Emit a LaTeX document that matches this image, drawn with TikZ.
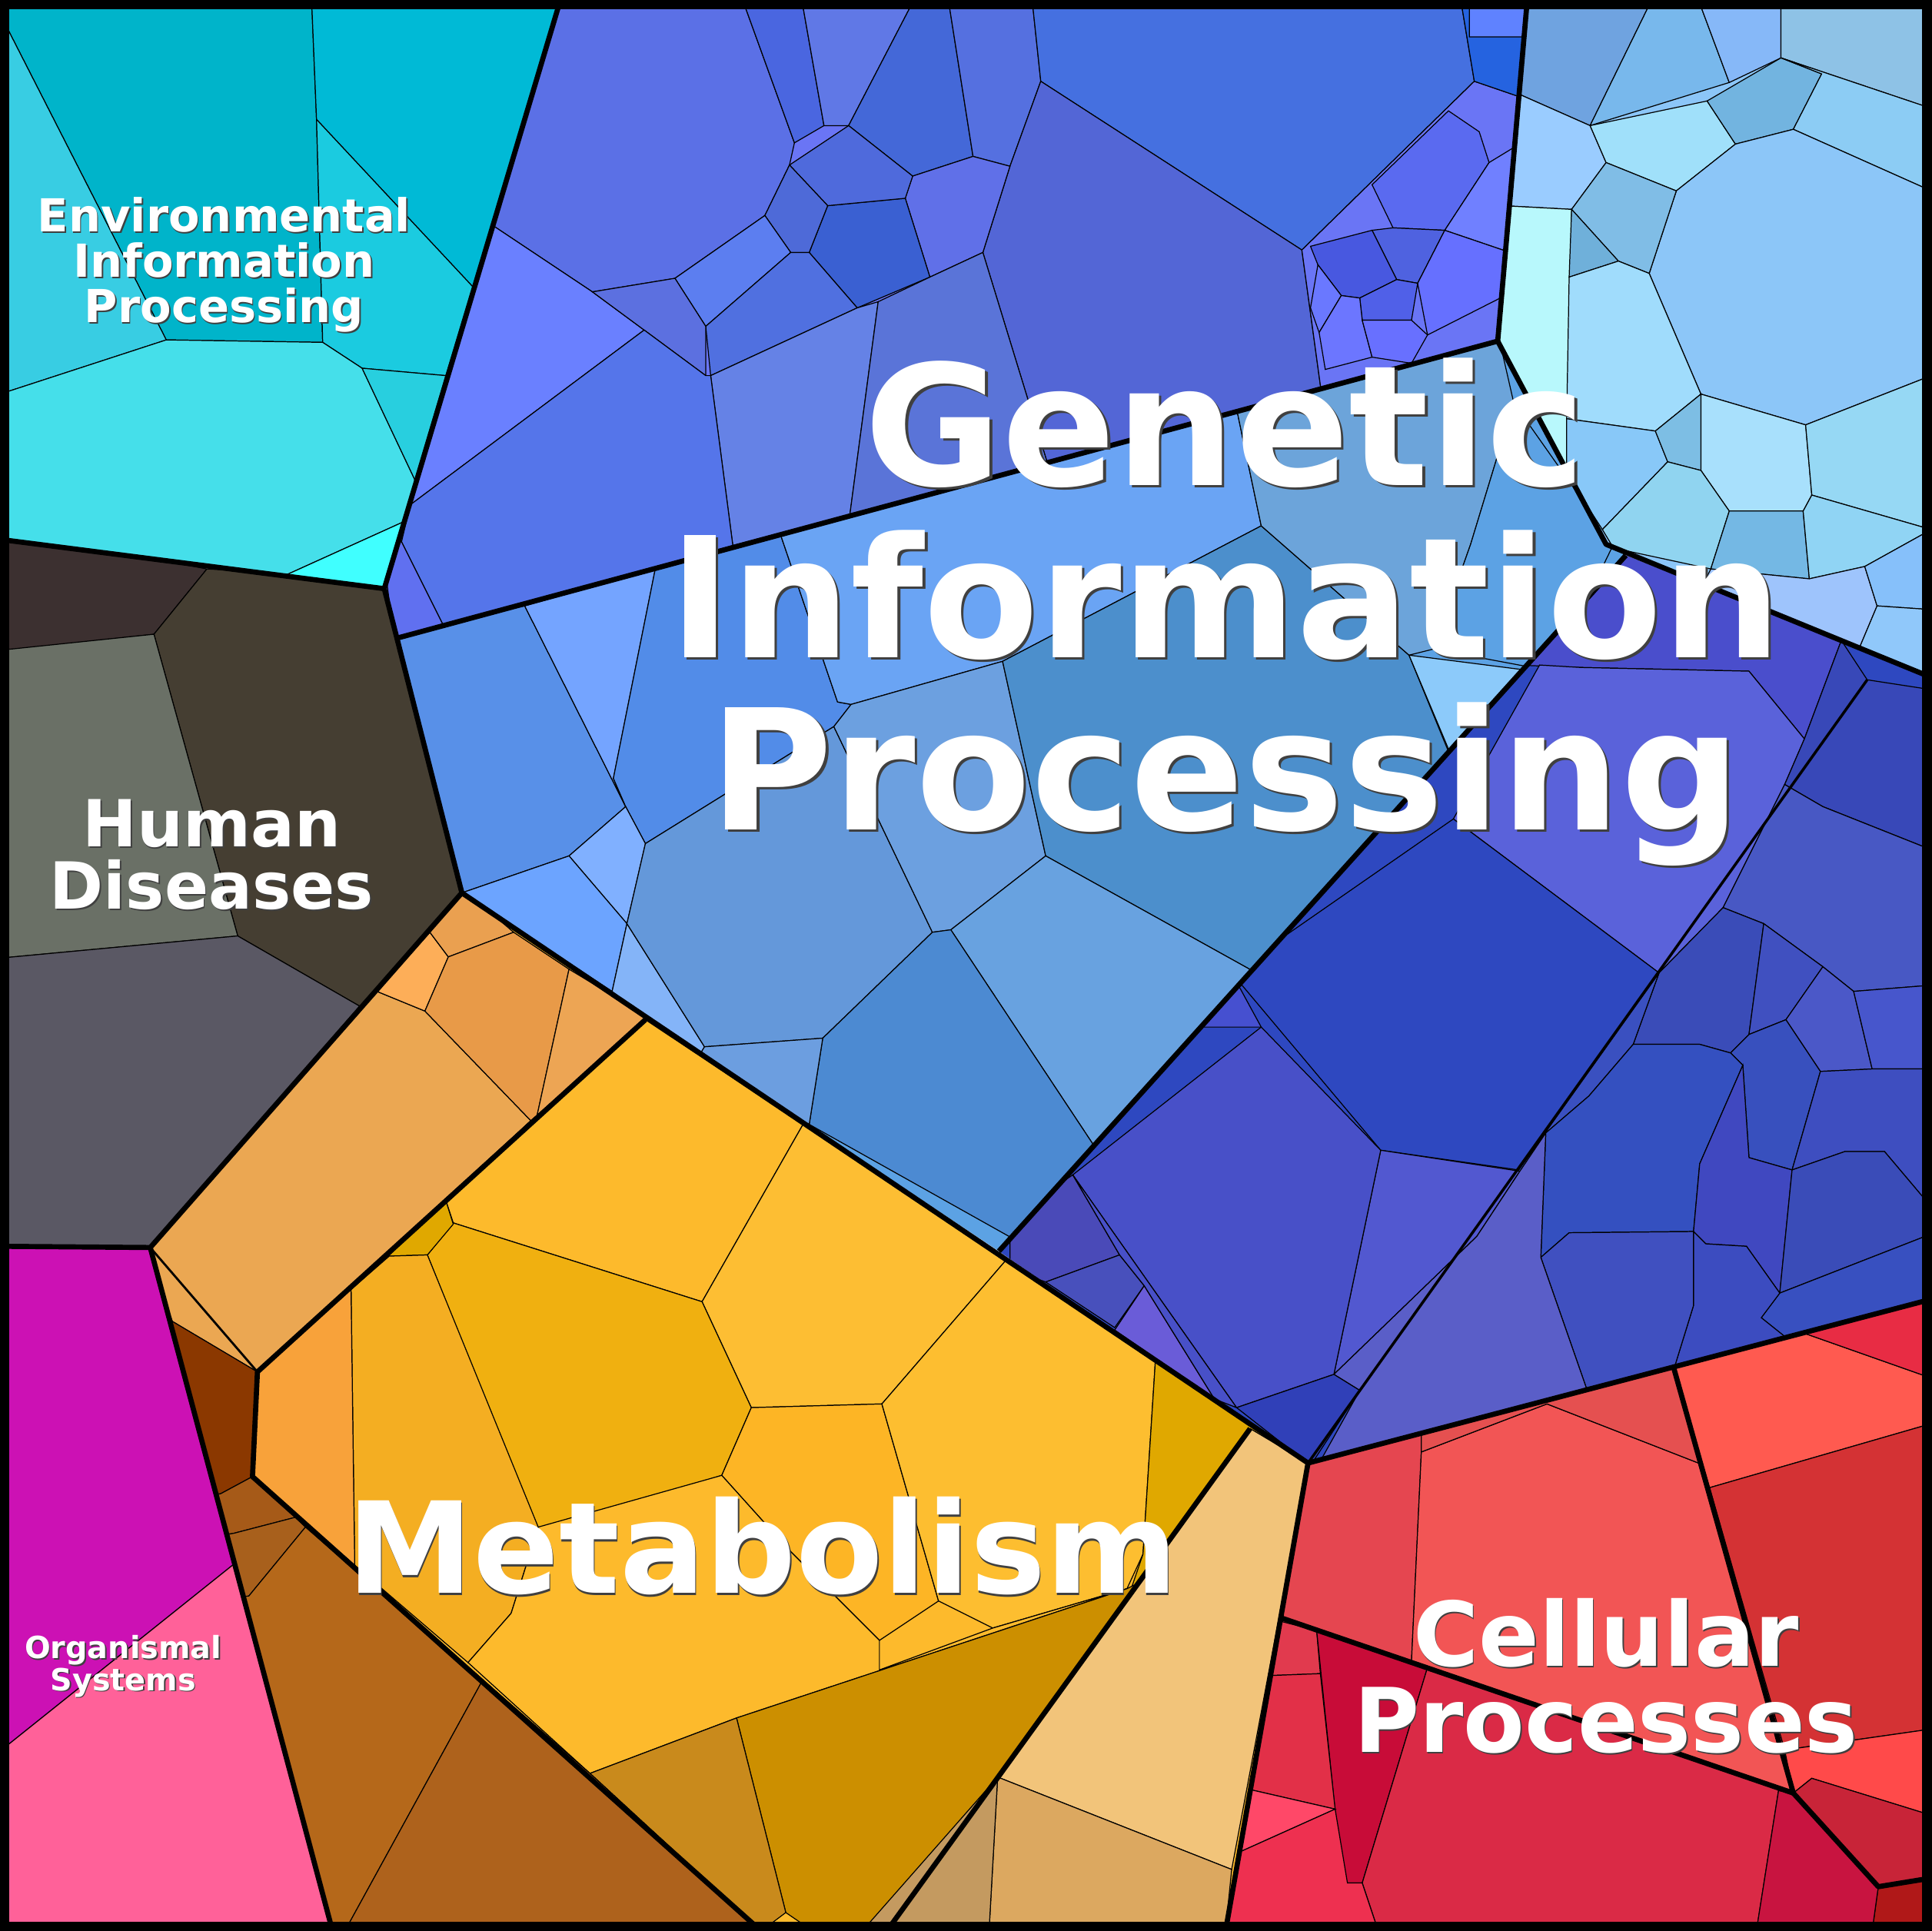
\documentclass[tikz,border=0pt]{standalone}
\usepackage{fontspec}
\setmainfont{DejaVu Sans}
\newcommand\cell[2]{\definecolor{tmpc}{HTML}{#1}\filldraw[fill=tmpc,draw=black,line width=0.35pt] #2 -- cycle;}
\newcommand\basefill[1]{\definecolor{tmpc}{HTML}{#1}\fill[tmpc] (0,0) rectangle (1568,1568);}
\begin{document}
\begin{tikzpicture}[x=0.016cm,y=-0.016cm,
  thick border/.style={line width=1.9pt,line join=round},
  lbl/.style={text=white,font=\bfseries,align=center,inner sep=0},
  shd/.style={text=black!75,font=\bfseries,align=center,inner sep=0}]
\useasboundingbox (0,0) rectangle (1568,1568);
% ---------- Environmental ----------
\begin{scope}
\clip (0,0)--(455,0)--(312,478)--(0,438)--cycle;
\cell{00B4CA}{(0,0)--(253,0)--(257,97)--(262,278)--(135,276)--(7,25)--(0,20)}
\cell{00BAD6}{(253,0)--(460,0)--(384,233)--(257,97)}
\cell{38CDE3}{(0,20)--(7,25)--(135,276)--(0,320)}
\cell{1BCBE0}{(257,97)--(384,233)--(362,305)--(294,299)--(262,278)}
\cell{45DFEA}{(0,320)--(135,276)--(262,278)--(294,299)--(337,390)--(327,424)--(232,467)--(0,445)}
\cell{28CFDF}{(294,299)--(362,305)--(337,390)}
\cell{40FFFF}{(232,467)--(327,424)--(312,490)}
\end{scope}
% ---------- Human diseases ----------
\begin{scope}
\clip (0,438)--(312,478)--(375,725)--(122,1013)--(0,1012)--cycle;
\cell{3C3030}{(0,430)--(168,462)--(125,515)--(8,528)--(0,520)}
\cell{453E32}{(168,462)--(320,470)--(380,725)--(292,817)--(193,760)--(125,515)}
\cell{6A7066}{(0,528)--(125,515)--(193,760)--(0,778)}
\cell{5A5864}{(0,778)--(193,760)--(292,817)--(122,1013)--(0,1012)}
\end{scope}
% ---------- Organismal ----------
\cell{CC11B4}{(0,1012)--(122,1013)--(190,1270)--(0,1422)}
\cell{FF6199}{(0,1422)--(190,1270)--(270,1568)--(0,1568)}
% ---------- Metabolism ----------
\begin{scope}
\clip (375,725)--(1062,1188)--(995,1568)--(270,1568)--(122,1013)--cycle;
\basefill{FDBA2C}
\cell{EBA752}{(115,1010)--(306,805)--(345,821)--(431,910)--(209,1114)--(140,1073)}
\cell{FDAE58}{(306,805)--(349,757)--(364,777)--(345,821)}
\cell{EAA050}{(349,757)--(374,720)--(417,757)--(364,777)}
\cell{E89A48}{(345,821)--(364,777)--(417,757)--(462,787)--(436,906)--(431,910)}
\cell{EDA554}{(462,787)--(530,828)--(436,906)}
\cell{FDBA2C}{(524,828)--(652,913)--(570,1057)--(368,993)--(362,975)--(431,910)}
\cell{FDBE33}{(652,913)--(817,1023)--(716,1140)--(610,1143)--(570,1057)}
\cell{F0B010}{(368,993)--(570,1057)--(610,1143)--(586,1198)--(437,1245)--(347,1019)}
\cell{E0A800}{(315,1020)--(362,975)--(368,994)--(347,1019)}
\cell{F4AE22}{(285,1047)--(316,1020)--(347,1019)--(437,1240)--(415,1310)--(380,1350)--(288,1271)}
\cell{F8A23A}{(209,1114)--(285,1047)--(288,1271)--(205,1199)}
\cell{FDB525}{(586,1198)--(610,1143)--(716,1140)--(762,1300)--(714,1332)--(640,1258)}
\cell{FDBE30}{(716,1140)--(817,1023)--(938,1106)--(928,1262)--(915,1290)--(806,1322)--(762,1300)}
\cell{E0A800}{(938,1106)--(1030,1165)--(915,1300)--(928,1262)}
\cell{FDBA2C}{(380,1350)--(415,1310)--(437,1240)--(586,1198)--(640,1258)--(714,1332)--(714,1356)--(806,1322)--(915,1290)--(598,1395)--(479,1440)}
\cell{CC8F00}{(598,1395)--(915,1290)--(935,1280)--(720,1568)--(660,1568)--(638,1553)}
\cell{C98A1C}{(479,1440)--(598,1395)--(638,1553)--(618,1568)}
\cell{8B3800}{(120,1060)--(140,1073)--(209,1114)--(205,1199)--(179,1213)--(150,1215)}
\cell{A65A18}{(150,1215)--(179,1213)--(205,1199)--(240,1232)--(190,1245)--(160,1250)}
\cell{A8601C}{(160,1250)--(190,1245)--(240,1232)--(248,1240)--(202,1296)--(170,1300)}
\cell{B5681A}{(170,1300)--(202,1296)--(248,1240)--(392,1364)--(280,1568)--(240,1568)}
\cell{AE621C}{(392,1364)--(479,1440)--(618,1568)--(280,1568)}
\cell{F2C47A}{(1015,1160)--(1062,1188)--(1000,1518)--(810,1443)}
\cell{DCA860}{(810,1443)--(1000,1518)--(995,1568)--(803,1568)}
\cell{C49A60}{(810,1443)--(803,1568)--(700,1568)}
\end{scope}
% ---------- Cellular ----------
\begin{scope}
\clip (1062,1188)--(1568,1055)--(1568,1568)--(995,1568)--cycle;
\basefill{DA2A46}
\cell{E54650}{(1062,1188)--(1154,1165)--(1154,1179)--(1146,1349)--(1030,1314)}
\cell{F25555}{(1154,1179)--(1256,1140)--(1379,1188)--(1456,1456)--(1146,1349)}
\cell{E55050}{(1154,1165)--(1359,1100)--(1379,1188)--(1256,1140)--(1154,1179)}
\cell{FF5A50}{(1359,1111)--(1466,1083)--(1568,1119)--(1568,1156)--(1388,1208)}
\cell{E82C44}{(1466,1083)--(1568,1040)--(1568,1119)}
\cell{D43234}{(1388,1208)--(1568,1156)--(1568,1404)--(1449,1421)}
\cell{FF4A4A}{(1449,1421)--(1568,1404)--(1568,1474)--(1471,1444)--(1456,1456)}
\cell{C82438}{(1456,1456)--(1471,1444)--(1568,1474)--(1568,1525)--(1525,1532)}
\cell{B01818}{(1525,1532)--(1568,1525)--(1568,1568)--(1520,1568)}
\cell{E13A4E}{(1030,1314)--(1069,1324)--(1072,1359)--(1020,1361)}
\cell{C80C38}{(1069,1324)--(1159,1354)--(1106,1529)--(1090,1529)}
\cell{DA2A46}{(1159,1354)--(1456,1456)--(1444,1454)--(1426,1568)--(1119,1568)--(1106,1529)}
\cell{C81440}{(1444,1454)--(1456,1456)--(1525,1532)--(1520,1568)--(1426,1568)}
\cell{E23048}{(1020,1361)--(1072,1359)--(1084,1469)--(1010,1452)}
\cell{FF4868}{(1010,1452)--(1084,1469)--(995,1509)}
\cell{EE3050}{(995,1509)--(1084,1469)--(1094,1529)--(1106,1529)--(1119,1568)--(990,1568)}
\end{scope}
% ---------- Genetic: top zone ----------
\begin{scope}
\clip (455,0)--(1240,0)--(1216,277)--(323,518)--(312,478)--cycle;
\basefill{6A75F5}
\cell{5B70E6}{(455,0)--(603,0)--(645,116)--(641,134)--(621,175)--(548,226)--(481,237)--(400,183)}
\cell{4A66E0}{(603,0)--(651,0)--(669,102)--(645,116)}
\cell{6078E6}{(651,0)--(742,0)--(689,102)--(669,102)}
\cell{4468D8}{(742,0)--(770,0)--(790,127)--(741,143)--(689,102)}
\cell{5570E0}{(770,0)--(838,0)--(845,66)--(820,135)--(790,127)}
\cell{4570E0}{(838,0)--(1186,0)--(1197,66)--(1057,203)--(845,66)}
\cell{5366D6}{(845,66)--(1057,203)--(1073,320)--(851,378)--(798,205)--(820,135)}
\cell{6070E8}{(741,143)--(790,127)--(820,135)--(798,205)--(755,225)--(735,161)}
\cell{3A60D2}{(657,205)--(672,167)--(735,161)--(755,225)--(696,250)}
\cell{4F6ADC}{(641,134)--(689,102)--(741,143)--(735,161)--(672,167)}
\cell{4E6AD8}{(641,134)--(672,167)--(657,205)--(642,205)--(621,175)}
\cell{5C7EF0}{(548,226)--(621,175)--(642,205)--(573,265)}
\cell{5070E0}{(573,265)--(642,205)--(657,205)--(696,250)--(577,305)}
\cell{6582E6}{(577,305)--(696,250)--(713,245)--(690,418)--(595,443)}
\cell{5A74D8}{(713,245)--(755,225)--(798,205)--(851,378)--(690,418)}
\cell{6A80FF}{(400,183)--(481,237)--(523,268)--(333,410)--(300,420)}
\cell{5C70E0}{(481,237)--(548,226)--(573,265)--(573,305)--(523,268)}
\cell{5575EA}{(523,268)--(573,305)--(577,305)--(595,443)--(360,508)--(326,440)--(333,410)}
\cell{6070F0}{(326,440)--(360,508)--(320,520)--(310,440)}
\cell{6A75F5}{(1057,203)--(1197,66)--(1232,78)--(1216,277)--(1073,320)}
\cell{2563E0}{(1186,0)--(1240,0)--(1232,78)--(1197,66)}
\cell{5F82FF}{(1193,0)--(1240,0)--(1237,30)--(1193,30)}
\cell{5A6AF0}{(1114,150)--(1176,90)--(1201,107)--(1209,132)--(1173,187)--(1131,185)}
\cell{7080FF}{(1209,132)--(1232,118)--(1226,205)--(1173,187)}
\cell{4F62E0}{(1131,185)--(1173,187)--(1151,230)--(1134,227)--(1114,187)}
\cell{6670FF}{(1173,187)--(1226,205)--(1222,240)--(1159,272)--(1151,230)}
\cell{4858E0}{(1064,200)--(1114,187)--(1134,227)--(1104,242)--(1089,240)--(1070,215)}
\cell{6A78FF}{(1070,215)--(1089,240)--(1071,270)--(1064,250)}
\cell{5060E8}{(1104,242)--(1134,227)--(1151,230)--(1146,260)--(1106,260)}
\cell{6C76FF}{(1071,270)--(1089,240)--(1104,242)--(1106,260)--(1114,290)--(1076,300)}
\cell{6870FF}{(1106,260)--(1146,260)--(1159,272)--(1146,295)--(1114,290)}
\end{scope}
% ---------- Genetic: light-blue zone ----------
\begin{scope}
\clip (1240,0)--(1568,0)--(1568,550)--(1304,442)--(1216,277)--cycle;
\basefill{8CC6F8}
\cell{6FA3E0}{(1230,0)--(1341,0)--(1291,102)--(1230,75)}
\cell{78B8EC}{(1341,0)--(1379,0)--(1404,67)--(1291,102)}
\cell{86B8F8}{(1379,0)--(1446,0)--(1446,47)--(1404,67)}
\cell{8EC2E6}{(1446,0)--(1568,0)--(1568,88)--(1446,47)}
\cell{9ACCFF}{(1230,75)--(1291,102)--(1304,132)--(1276,170)--(1220,167)}
\cell{B8F8FC}{(1220,167)--(1276,170)--(1272,385)--(1210,277)}
\cell{A0E0FA}{(1291,102)--(1386,82)--(1409,117)--(1361,155)--(1304,132)}
\cell{72B4E0}{(1386,82)--(1446,47)--(1479,60)--(1456,105)--(1409,117)}
\cell{8CCCF4}{(1446,47)--(1568,88)--(1568,155)--(1456,105)--(1479,60)}
\cell{8CC6F8}{(1409,117)--(1456,105)--(1568,155)--(1568,305)--(1466,345)--(1381,320)--(1339,222)--(1361,155)}
\cell{80BDE6}{(1304,132)--(1361,155)--(1339,222)--(1314,212)--(1276,170)}
\cell{6FB0DA}{(1276,170)--(1314,212)--(1274,225)}
\cell{A0DCFC}{(1274,225)--(1314,212)--(1339,222)--(1381,320)--(1344,350)--(1272,340)}
\cell{88C8F8}{(1272,340)--(1344,350)--(1354,375)--(1301,430)--(1272,385)}
\cell{7DBEE4}{(1344,350)--(1381,320)--(1381,382)--(1354,375)}
\cell{A8E0FC}{(1381,320)--(1466,345)--(1471,402)--(1464,415)--(1404,415)--(1381,382)}
\cell{96D8F4}{(1466,345)--(1568,305)--(1568,430)--(1471,402)}
\cell{90D4F0}{(1301,430)--(1354,375)--(1381,382)--(1404,415)--(1389,462)--(1310,445)}
\cell{74B8E4}{(1404,415)--(1464,415)--(1469,470)--(1389,462)}
\cell{90D4F4}{(1464,415)--(1471,402)--(1568,430)--(1514,460)--(1469,470)}
\cell{9EC4FC}{(1389,462)--(1469,470)--(1514,460)--(1524,492)--(1508,530)--(1380,480)}
\cell{86C0FA}{(1514,460)--(1568,430)--(1568,495)--(1524,492)}
\cell{90C8FA}{(1524,492)--(1568,495)--(1568,560)--(1508,530)}
\end{scope}
% ---------- Genetic: middle zone ----------
\begin{scope}
\clip (323,518)--(1216,277)--(1304,442)--(1320,451)--(811,1016)--(375,725)--cycle;
\basefill{5CA2E4}
\cell{5890E8}{(300,518)--(426,492)--(508,655)--(462,695)--(375,725)}
\cell{74A4FF}{(426,492)--(532,462)--(498,632)--(508,655)}
\cell{528CE8}{(532,462)--(595,442)--(634,435)--(680,570)--(691,572)--(677,590)--(524,685)--(508,655)--(498,632)}
\cell{80B0FF}{(462,695)--(508,655)--(524,685)--(509,750)}
\cell{6CA4FF}{(375,725)--(462,695)--(509,750)--(497,805)}
\cell{84B4F8}{(509,750)--(572,850)--(560,870)--(497,805)}
\cell{6498DA}{(524,685)--(677,590)--(757,757)--(668,843)--(572,850)--(509,750)}
\cell{6AA4F4}{(595,442)--(1004,332)--(1024,427)--(814,537)--(691,572)--(680,570)--(634,435)}
\cell{6CA0E0}{(677,590)--(691,572)--(814,537)--(849,695)--(772,755)--(757,757)}
\cell{4C8FCC}{(814,537)--(1024,427)--(1144,532)--(1180,620)--(1020,790)--(849,695)}
\cell{6CA4DA}{(1004,332)--(1216,270)--(1229,327)--(1194,442)--(1164,527)--(1144,532)--(1024,427)}
\cell{5CA2E4}{(1229,327)--(1310,442)--(1260,545)--(1164,527)--(1194,442)}
\cell{8CCAFA}{(1144,532)--(1246,545)--(1280,520)--(1181,620)}
\cell{68A2E0}{(772,755)--(849,695)--(1020,790)--(888,930)}
\cell{4C8AD2}{(668,843)--(757,757)--(772,755)--(888,930)--(830,1010)--(657,913)}
\cell{6C9EE0}{(572,850)--(668,843)--(657,913)--(560,870)}
\cell{84B8F8}{(830,1010)--(888,930)--(900,940)--(811,1030)}
\end{scope}
% ---------- Genetic: indigo zone ----------
\begin{scope}
\clip (1320,451)--(1568,550)--(1568,1055)--(1062,1188)--(811,1016)--cycle;
\basefill{2E48C0}
\cell{4A4ECC}{(1230,540)--(1320,440)--(1495,520)--(1465,600)--(1420,545)--(1284,542)}
\cell{5A62DA}{(1180,665)--(1250,540)--(1284,542)--(1420,545)--(1465,600)--(1449,637)--(1399,737)--(1347,790)}
\cell{3848B8}{(1465,600)--(1495,520)--(1516,552)--(1568,560)--(1568,690)--(1480,655)--(1449,637)}
\cell{4858C4}{(1449,637)--(1480,655)--(1568,690)--(1568,800)--(1505,805)--(1480,785)--(1432,750)--(1399,737)}
\cell{3A4CB8}{(1347,790)--(1399,737)--(1432,750)--(1420,840)--(1405,855)--(1380,848)--(1326,848)}
\cell{4050C0}{(1432,750)--(1480,785)--(1450,828)--(1420,840)}
\cell{4B58C8}{(1480,785)--(1505,805)--(1520,868)--(1478,870)--(1450,828)}
\cell{4756CC}{(1505,805)--(1568,800)--(1568,868)--(1520,868)}
\cell{3850BE}{(1420,840)--(1450,828)--(1478,870)--(1455,950)--(1420,940)--(1415,865)--(1405,855)}
\cell{3E4EC0}{(1478,870)--(1520,868)--(1568,868)--(1568,980)--(1530,935)--(1498,935)--(1455,950)}
\cell{2E48C0}{(1000,790)--(1180,665)--(1347,790)--(1233,950)--(1121,934)}
\cell{3A50C0}{(1233,950)--(1347,790)--(1326,848)--(1290,890)--(1255,920)}
\cell{3450C0}{(1255,920)--(1290,890)--(1326,848)--(1380,848)--(1405,855)--(1415,865)--(1380,945)--(1375,1000)--(1274,1001)--(1251,1021)}
\cell{4048C0}{(1415,865)--(1420,940)--(1455,950)--(1445,1050)--(1418,1012)--(1385,1010)--(1375,1000)--(1380,945)}
\cell{3A4CB8}{(1455,950)--(1498,935)--(1530,935)--(1568,980)--(1568,1002)--(1445,1050)}
\cell{3850C0}{(1445,1050)--(1568,1002)--(1568,1060)--(1450,1086)--(1430,1070)}
\cell{3C4CC0}{(1375,1000)--(1385,1010)--(1418,1012)--(1445,1050)--(1430,1070)--(1450,1086)--(1358,1115)--(1375,1060)}
\cell{4050C0}{(1274,1001)--(1375,1000)--(1375,1060)--(1358,1115)--(1289,1130)--(1251,1021)}
\cell{5258D0}{(1121,934)--(1234,951)--(1199,1004)--(1083,1116)}
\cell{5A5EC8}{(1199,1004)--(1234,951)--(1255,920)--(1251,1021)--(1289,1130)--(1070,1190)--(1104,1129)--(1083,1116)}
\cell{4850C8}{(1024,834)--(1121,934)--(1083,1116)--(1004,1143)--(871,954)}
\cell{3040B8}{(1004,1143)--(1083,1116)--(1104,1129)--(1064,1190)}
\cell{4650D0}{(960,834)--(1000,790)--(1024,834)}
\cell{4A4AB8}{(820,989)--(871,954)--(909,1019)--(849,1041)--(820,1030)}
\cell{4850BC}{(849,1041)--(909,1019)--(929,1044)--(905,1078)}
\cell{6A5CD8}{(929,1044)--(986,1136)--(905,1080)}
\cell{4850C8}{(871,954)--(1004,1143)--(986,1136)--(929,1044)--(909,1019)}
\end{scope}
% ---------- thick boundaries ----------
\begin{scope}[thick border]
\coordinate (tA) at (455,0); \coordinate (tB) at (312,478); \coordinate (tC) at (375,725);
\coordinate (tD) at (122,1013); \coordinate (tE) at (1062,1188); \coordinate (tF) at (995,1568);
\coordinate (tG) at (1015,1160); \coordinate (tH) at (720,1568);
\draw (tA)--(tB)--(tC)--(tD)--(270,1568);
\draw (0,438)--(tB); \draw (0,1012)--(tD);
\draw (tC)--(tE)--(tF); \draw (tG)--(tH);
\draw (tE)--(1568,1055);
\draw (323,518)--(1216,277)--(1240,0);
\draw (1216,277)--(1304,442)--(1568,550);
\draw (811,1016)--(1320,451);
\draw (524,828)--(209,1114)--(205,1199)--(618,1568);
\draw (1041,1314)--(1456,1456)--(1359,1111);
\draw (1456,1456)--(1525,1532)--(1568,1525);
\draw[line width=1pt] (tE)--(1516,552);
\draw[line width=0.8pt] (122,1013)--(209,1114);
\end{scope}
\draw[line width=4.5pt] (2.5,2.5) rectangle (1565.5,1565.5);
% ---------- labels ----------
\node[shd,font=\bfseries\fontsize{16.8}{16.8}\selectfont] (envs) at (183,216) {Environmental\\Information\\Processing};
\node[lbl,font=\bfseries\fontsize{16.8}{16.8}\selectfont] (env) at (182,215) {Environmental\\Information\\Processing};
\node[shd,font=\bfseries\fontsize{24}{23}\selectfont] (hums) at (173,695) {Human\\Diseases};
\node[lbl,font=\bfseries\fontsize{24}{23}\selectfont] (hum) at (172,694) {Human\\Diseases};
\node[shd,font=\bfseries\fontsize{11.3}{11.8}\selectfont] (orgs) at (101,1354) {Organismal\\Systems};
\node[lbl,font=\bfseries\fontsize{11.3}{11.8}\selectfont] (org) at (100,1353) {Organismal\\Systems};
\node[shd,font=\bfseries\fontsize{62}{63.7}\selectfont] (gens) at (997,499) {Genetic\\Information\\Processing};
\node[lbl,font=\bfseries\fontsize{62}{63.7}\selectfont] (gen) at (995,497) {Genetic\\Information\\Processing};
\node[shd,font=\bfseries\fontsize{46.9}{50}\selectfont] (mets) at (620,1257) {Metabolism};
\node[lbl,font=\bfseries\fontsize{46.9}{50}\selectfont] (met) at (619,1255) {Metabolism};
\node[shd,font=\bfseries\fontsize{33}{31.9}\selectfont] (cels) at (1305,1362) {Cellular\\Processes};
\node[lbl,font=\bfseries\fontsize{33}{31.9}\selectfont] (cel) at (1304,1361) {Cellular\\Processes};
\end{tikzpicture}
\end{document}
